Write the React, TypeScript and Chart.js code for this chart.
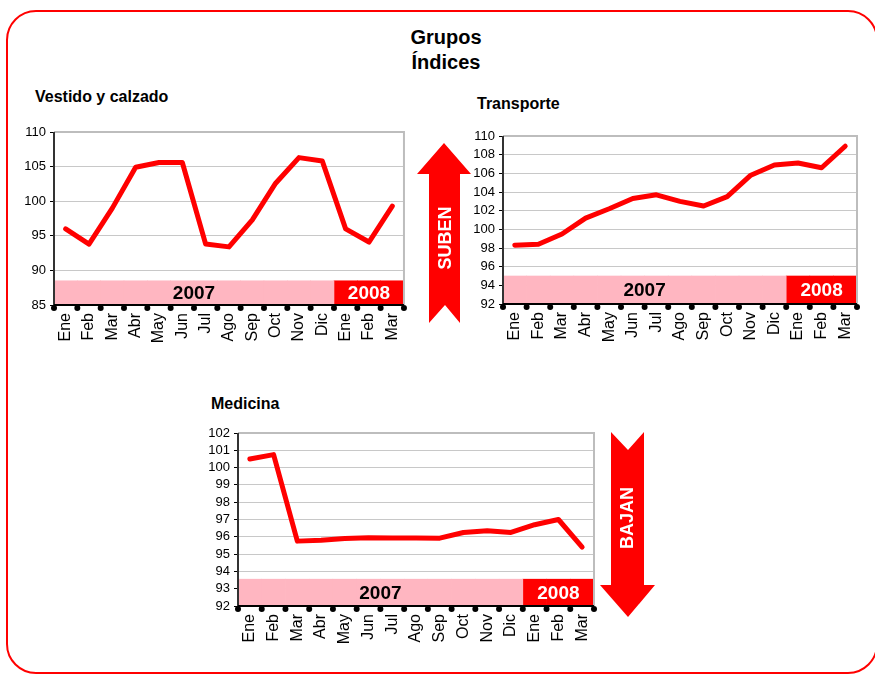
import React, { useEffect, useRef } from "react";
import { Chart, registerables } from "chart.js";
Chart.register(...registerables);

const FONT = '"Liberation Sans", Arial, sans-serif';

const months = ["Ene", "Feb", "Mar", "Abr", "May", "Jun", "Jul", "Ago", "Sep", "Oct", "Nov", "Dic", "Ene", "Feb", "Mar"];
const years = ["2007", "2008"];
const yearMonthCounts = [12, 3];

const vestido = [96.0, 93.8, 99.0, 104.9, 105.6, 105.6, 93.8, 93.4, 97.3, 102.6, 106.3, 105.8, 96.0, 94.1, 99.3];
const transporte = [98.3, 98.4, 99.5, 101.2, 102.2, 103.3, 103.7, 103.0, 102.5, 103.5, 105.8, 106.9, 107.1, 106.6, 108.9];
const medicina = [100.5, 100.75, 95.75, 95.8, 95.9, 95.95, 95.93, 95.93, 95.92, 96.25, 96.35, 96.25, 96.7, 97.0, 95.4];

// axis ranges: [min, max, step, band top]
const vestidoAxis = [85, 110, 5, 88.5];
const transporteAxis = [92, 110, 2, 95];
const medicinaAxis = [92, 102, 1, 93.55];

const decoPlugin = {
  id: "deco",
  afterDatasetsDraw(chart: any) {
    const { ctx, chartArea: a } = chart;
    ctx.save();
    chart.data.datasets.forEach((ds: any, i: number) => {
      if (ds.type === "line") return;
      const meta = chart.getDatasetMeta(i);
      let l = Infinity, r = -Infinity, t = 0, b = 0;
      meta.data.forEach((el: any, j: number) => {
        if (ds.data[j] == null) return;
        const p = el.getProps(["x", "y", "base", "width"], true);
        l = Math.min(l, p.x - p.width / 2);
        r = Math.max(r, p.x + p.width / 2);
        t = p.y;
        b = p.base;
      });
      ctx.fillStyle = ds.textColor;
      ctx.font = `bold 19px ${FONT}`;
      ctx.textAlign = "center";
      ctx.textBaseline = "middle";
      ctx.fillText(ds.label, (l + r) / 2, (t + b) / 2 + 1);
    });
    ctx.lineWidth = 2;
    ctx.strokeStyle = "#bdbdbd";
    ctx.beginPath();
    ctx.moveTo(a.left, a.top);
    ctx.lineTo(a.right, a.top);
    ctx.lineTo(a.right, a.bottom);
    ctx.stroke();
    ctx.strokeStyle = "#333";
    ctx.beginPath();
    ctx.moveTo(a.left, a.top);
    ctx.lineTo(a.left, a.bottom);
    ctx.stroke();
    ctx.strokeStyle = "#000";
    ctx.beginPath();
    ctx.moveTo(a.left, a.bottom);
    ctx.lineTo(a.right, a.bottom);
    ctx.stroke();
    const xs = chart.scales.x;
    const n = chart.data.labels.length;
    ctx.fillStyle = "#000";
    for (let i = 0; i <= n; i++) {
      const x = xs.getPixelForValue(i - 0.5);
      ctx.beginPath();
      ctx.arc(x, a.bottom + 3, 3, 0, Math.PI * 2);
      ctx.fill();
    }
    ctx.restore();
  },
};

type Props = {
  x: number; y: number; w: number; h: number;
  plot: [number, number, number, number];
  values: number[];
  axis: number[];
};

function IndexChart({ x, y, w, h, plot, values, axis }: Props) {
  const ref = useRef<HTMLCanvasElement>(null);
  useEffect(() => {
    const [pl, pt, pr, pb] = plot;
    const [min, max, step, bandTop] = axis;
    const bandSets: any[] = [];
    let start = 0;
    const colors = ["#ffb6c1", "#ff0000"];
    const textColors = ["#000", "#fff"];
    years.forEach((yr, k) => {
      const data = months.map((_, i) =>
        i >= start && i < start + yearMonthCounts[k] ? [min, bandTop] : null
      );
      start += yearMonthCounts[k];
      bandSets.push({
        type: "bar",
        label: yr,
        data,
        backgroundColor: colors[k],
        textColor: textColors[k],
        barPercentage: 1,
        categoryPercentage: 1,
        grouped: false,
        borderWidth: 0,
        order: 2,
      });
    });
    const chart = new Chart(ref.current!, {
      type: "bar",
      data: {
        labels: months,
        datasets: [
          {
            type: "line",
            label: "Índice",
            data: values,
            borderColor: "#ff0000",
            borderWidth: 5,
            pointRadius: 0,
            tension: 0,
            borderCapStyle: "round",
            borderJoinStyle: "round",
            order: 0,
          } as any,
          ...bandSets,
        ],
      },
      options: {
        responsive: false,
        animation: false,
        devicePixelRatio: 1,
        layout: { padding: { left: 0, top: pt - y, right: x + w - pr, bottom: 0 } },
        plugins: { legend: { display: false }, tooltip: { enabled: false } },
        scales: {
          x: {
            offset: true,
            grid: { display: false, drawTicks: false },
            border: { display: false },
            ticks: {
              autoSkip: false,
              maxRotation: 90,
              minRotation: 90,
              padding: 8,
              color: "#000",
              font: { family: FONT, size: 16 },
            },
            afterFit: (s: any) => { s.height = y + h - pb; },
          },
          y: {
            min,
            max,
            grid: { color: "#c8c8c8", lineWidth: 1, tickColor: "#000", tickLength: 4 },
            border: { display: false },
            ticks: {
              stepSize: step,
              autoSkip: false,
              padding: 4,
              color: "#000",
              font: { family: FONT, size: 13 },
            },
            afterFit: (s: any) => { s.width = pl - x; },
          },
        },
      } as any,
      plugins: [decoPlugin],
    });
    return () => chart.destroy();
  }, []);
  return (
    <canvas
      ref={ref}
      width={w}
      height={h}
      style={{ position: "absolute", left: x, top: y, width: w, height: h }}
    />
  );
}

const textStyle = (left: number, top: number, size: number): React.CSSProperties => ({
  position: "absolute",
  left,
  top,
  fontFamily: FONT,
  fontWeight: "bold",
  fontSize: size,
  lineHeight: "20px",
  color: "#000",
  whiteSpace: "nowrap",
});

export default function App() {
  return (
    <div style={{ position: "fixed", left: 0, top: 0, width: 875, height: 675, background: "#fff", overflow: "hidden" }}>
      <div
        style={{
          position: "absolute",
          left: 6,
          top: 10,
          width: 872,
          height: 664,
          boxSizing: "border-box",
          border: "2px solid #ff0000",
          borderRadius: 30,
        }}
      />
      <div
        style={{
          position: "absolute",
          left: 346,
          top: 25,
          width: 200,
          textAlign: "center",
          fontFamily: FONT,
          fontWeight: "bold",
          fontSize: 20,
          lineHeight: "25px",
          color: "#000",
        }}
      >
        Grupos
        <br />
        Índices
      </div>
      <div style={textStyle(35, 87, 16)}>Vestido y calzado</div>
      <div style={textStyle(477, 94, 16)}>Transporte</div>
      <div style={textStyle(211, 394, 16)}>Medicina</div>

      <IndexChart x={0} y={110} w={420} h={255} plot={[54, 132, 405, 305]} values={vestido} axis={vestidoAxis} />
      <IndexChart x={455} y={115} w={420} h={250} plot={[503, 136, 857, 304]} values={transporte} axis={transporteAxis} />
      <IndexChart x={185} y={415} w={432} h={255} plot={[238, 433, 594, 606]} values={medicina} axis={medicinaAxis} />

      <svg width={875} height={675} style={{ position: "absolute", left: 0, top: 0, pointerEvents: "none" }}>
        <polygon
          points="444,143 471,174 460,174 460,323 445,305 429,323 429,174 417,174"
          fill="#ff0000"
        />
        <text
          x={0}
          y={0}
          transform="translate(445,238) rotate(-90)"
          textAnchor="middle"
          dominantBaseline="central"
          fill="#fff"
          fontFamily={FONT}
          fontWeight="bold"
          fontSize={18}
        >
          SUBEN
        </text>
        <polygon
          points="611,432 628,450 644,432 644,585 655,585 628,617 600,585 611,585"
          fill="#ff0000"
        />
        <text
          x={0}
          y={0}
          transform="translate(627,518) rotate(-90)"
          textAnchor="middle"
          dominantBaseline="central"
          fill="#fff"
          fontFamily={FONT}
          fontWeight="bold"
          fontSize={18}
        >
          BAJAN
        </text>
      </svg>
    </div>
  );
}
